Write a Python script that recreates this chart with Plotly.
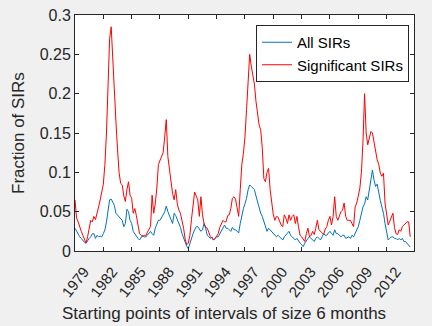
import plotly.graph_objects as go

start_year = 1979.0
step = 1.0 / 6.0

significant_sirs = [
    0.065, 0.042, 0.037, 0.030, 0.025, 0.020,  # 1979
    0.014, 0.010, 0.018, 0.030, 0.039, 0.037,  # 1980
    0.044, 0.040, 0.050, 0.056, 0.065, 0.073,  # 1981
    0.085, 0.110, 0.150, 0.210, 0.270, 0.285,  # 1982
    0.240, 0.200, 0.165, 0.130, 0.100, 0.086,  # 1983
    0.084, 0.070, 0.063, 0.078, 0.088, 0.071,  # 1984
    0.067, 0.048, 0.054, 0.045, 0.030, 0.022,  # 1985
    0.020, 0.018, 0.020, 0.019, 0.024, 0.028,  # 1986
    0.031, 0.071, 0.048, 0.060, 0.080, 0.110,  # 1987
    0.116, 0.120, 0.125, 0.145, 0.167, 0.120,  # 1988
    0.105, 0.086, 0.073, 0.065, 0.078, 0.060,  # 1989
    0.052, 0.048, 0.040, 0.029, 0.015, 0.008,  # 1990
    0.010, 0.020, 0.040, 0.060, 0.075, 0.070,  # 1991
    0.065, 0.044, 0.069, 0.046, 0.035, 0.030,  # 1992
    0.029, 0.024, 0.018, 0.016, 0.014, 0.016,  # 1993
    0.020, 0.022, 0.030, 0.035, 0.039, 0.037,  # 1994
    0.037, 0.045, 0.046, 0.054, 0.067, 0.069,  # 1995
    0.066, 0.055, 0.044, 0.078, 0.110, 0.124,  # 1996
    0.145, 0.180, 0.215, 0.250, 0.235, 0.224,  # 1997
    0.212, 0.190, 0.173, 0.160, 0.154, 0.131,  # 1998
    0.092, 0.088, 0.100, 0.105, 0.078, 0.063,  # 1999
    0.046, 0.039, 0.044, 0.043, 0.037, 0.033,  # 2000
    0.031, 0.046, 0.042, 0.035, 0.046, 0.039,  # 2001
    0.044, 0.046, 0.035, 0.044, 0.031, 0.020,  # 2002
    0.018, 0.014, 0.012, 0.022, 0.029, 0.018,  # 2003
    0.020, 0.025, 0.021, 0.029, 0.039, 0.027,  # 2004
    0.025, 0.022, 0.021, 0.028, 0.031, 0.039,  # 2005
    0.044, 0.033, 0.044, 0.069, 0.044, 0.039,  # 2006
    0.046, 0.050, 0.052, 0.061, 0.044, 0.039,  # 2007
    0.039, 0.039, 0.035, 0.031, 0.056, 0.061,  # 2008
    0.070, 0.080, 0.100, 0.140, 0.200, 0.150,  # 2009
    0.135, 0.145, 0.152, 0.150, 0.137, 0.130,  # 2010
    0.116, 0.110, 0.099, 0.095, 0.099, 0.061,  # 2011
    0.046, 0.033, 0.038, 0.044, 0.048, 0.030,  # 2012
    0.022, 0.021, 0.027, 0.025, 0.031, 0.033,  # 2013
    0.035, 0.037, 0.037, 0.018,                # 2014
]

all_sirs = [
    0.029, 0.025, 0.022, 0.018, 0.016, 0.013,  # 1979
    0.011, 0.010, 0.014, 0.016, 0.018, 0.022,  # 1980
    0.022, 0.016, 0.020, 0.018, 0.019, 0.018,  # 1981
    0.022, 0.027, 0.037, 0.052, 0.065, 0.066,  # 1982
    0.062, 0.058, 0.048, 0.046, 0.044, 0.042,  # 1983
    0.039, 0.031, 0.035, 0.053, 0.050, 0.039,  # 1984
    0.035, 0.025, 0.022, 0.018, 0.016, 0.014,  # 1985
    0.018, 0.020, 0.018, 0.018, 0.020, 0.022,  # 1986
    0.025, 0.022, 0.020, 0.029, 0.033, 0.039,  # 1987
    0.039, 0.042, 0.046, 0.050, 0.057, 0.050,  # 1988
    0.044, 0.040, 0.035, 0.048, 0.045, 0.040,  # 1989
    0.037, 0.030, 0.022, 0.016, 0.010, 0.006,  # 1990
    0.003, 0.010, 0.016, 0.022, 0.027, 0.031,  # 1991
    0.031, 0.027, 0.025, 0.027, 0.035, 0.029,  # 1992
    0.020, 0.018, 0.016, 0.018, 0.014, 0.016,  # 1993
    0.018, 0.018, 0.022, 0.025, 0.029, 0.033,  # 1994
    0.029, 0.029, 0.027, 0.025, 0.030, 0.027,  # 1995
    0.027, 0.025, 0.023, 0.035, 0.045, 0.054,  # 1996
    0.060, 0.067, 0.078, 0.084, 0.082, 0.080,  # 1997
    0.078, 0.070, 0.062, 0.055, 0.048, 0.044,  # 1998
    0.038, 0.033, 0.025, 0.029, 0.027, 0.025,  # 1999
    0.022, 0.020, 0.018, 0.020, 0.018, 0.016,  # 2000
    0.014, 0.018, 0.020, 0.022, 0.025, 0.020,  # 2001
    0.018, 0.015, 0.014, 0.016, 0.012, 0.010,  # 2002
    0.008, 0.0055, 0.010, 0.014, 0.016, 0.018, # 2003
    0.016, 0.014, 0.012, 0.016, 0.018, 0.016,  # 2004
    0.014, 0.018, 0.022, 0.020, 0.020, 0.023,  # 2005
    0.025, 0.022, 0.020, 0.027, 0.022, 0.022,  # 2006
    0.020, 0.018, 0.020, 0.020, 0.016, 0.017,  # 2007
    0.018, 0.016, 0.020, 0.018, 0.023, 0.027,  # 2008
    0.031, 0.039, 0.050, 0.056, 0.060, 0.069,  # 2009
    0.065, 0.078, 0.090, 0.103, 0.090, 0.082,  # 2010
    0.085, 0.073, 0.064, 0.056, 0.048, 0.035,  # 2011
    0.022, 0.014, 0.016, 0.018, 0.018, 0.016,  # 2012
    0.016, 0.014, 0.016, 0.014, 0.016, 0.012,  # 2013
    0.012, 0.010, 0.008, 0.005,                # 2014
]

years_all = [start_year + step * i for i in range(len(all_sirs))]
years_sig = [start_year + step * i for i in range(len(significant_sirs))]
tick_years = list(range(1979, 2013, 3))
y_ticks = [0, 0.05, 0.1, 0.15, 0.2, 0.25, 0.3]
y_tick_text = ["0", "0.05", "0.1", "0.15", "0.2", "0.25", "0.3"]

FONT = "Liberation Sans, Arial, Helvetica, sans-serif"
AX = "#262626"

fig = go.Figure()
fig.add_trace(go.Scatter(x=years_all, y=all_sirs, mode="lines", name="All SIRs",
                         line=dict(color="#0072BD", width=1)))
fig.add_trace(go.Scatter(x=years_sig, y=significant_sirs, mode="lines", name="Significant SIRs",
                         line=dict(color="#FF0000", width=1)))

plot_l, plot_r, plot_t, plot_b = 75, 18, 15, 75
plot_w = 432 - plot_l - plot_r
plot_h = 326 - plot_t - plot_b

fig.update_layout(
    width=432, height=326,
    margin=dict(l=plot_l, r=plot_r, t=plot_t, b=plot_b, autoexpand=False),
    paper_bgcolor="#f0f0f0", plot_bgcolor="white",
    font=dict(family=FONT, size=16, color=AX),
    showlegend=True,
    legend=dict(x=(256 - plot_l) / plot_w, y=(251 - 25) / plot_h,
                xanchor="left", yanchor="top",
                bgcolor="white", bordercolor=AX, borderwidth=1,
                font=dict(size=15, color="black"), tracegroupgap=0,
                itemwidth=30),
    xaxis=dict(range=[1979, 2014.9], tickvals=tick_years, tickangle=-52,
               ticks="inside", ticklen=4, tickcolor=AX, showgrid=False,
               zeroline=False, showline=True, linecolor=AX, linewidth=1,
               mirror="allticks", tickfont=dict(size=15, color=AX),
               ticklabelstandoff=5, ticklabelshift=9,
               automargin=False),
    yaxis=dict(range=[0, 0.3], tickvals=y_ticks, ticktext=y_tick_text,
               ticks="inside", ticklen=4, tickcolor=AX, showgrid=False,
               zeroline=False, showline=True, linecolor=AX, linewidth=1,
               mirror="allticks", tickfont=dict(size=16, color=AX),
               automargin=False),
)
fig.add_annotation(text="Starting points of intervals of size 6 months",
                   x=(224 - plot_l) / plot_w, y=(251 - 313) / plot_h,
                   xref="paper", yref="paper", showarrow=False,
                   font=dict(size=17, color=AX), xanchor="center", yanchor="middle")
fig.add_annotation(text="Fraction of SIRs", x=(18 - plot_l) / plot_w, y=(251 - 133) / plot_h,
                   xref="paper", yref="paper", showarrow=False, textangle=-90,
                   font=dict(size=17, color=AX), xanchor="center", yanchor="middle")

fig.write_html("out.html", config={"displayModeBar": False},
               post_script="document.body.style.margin='0';")
